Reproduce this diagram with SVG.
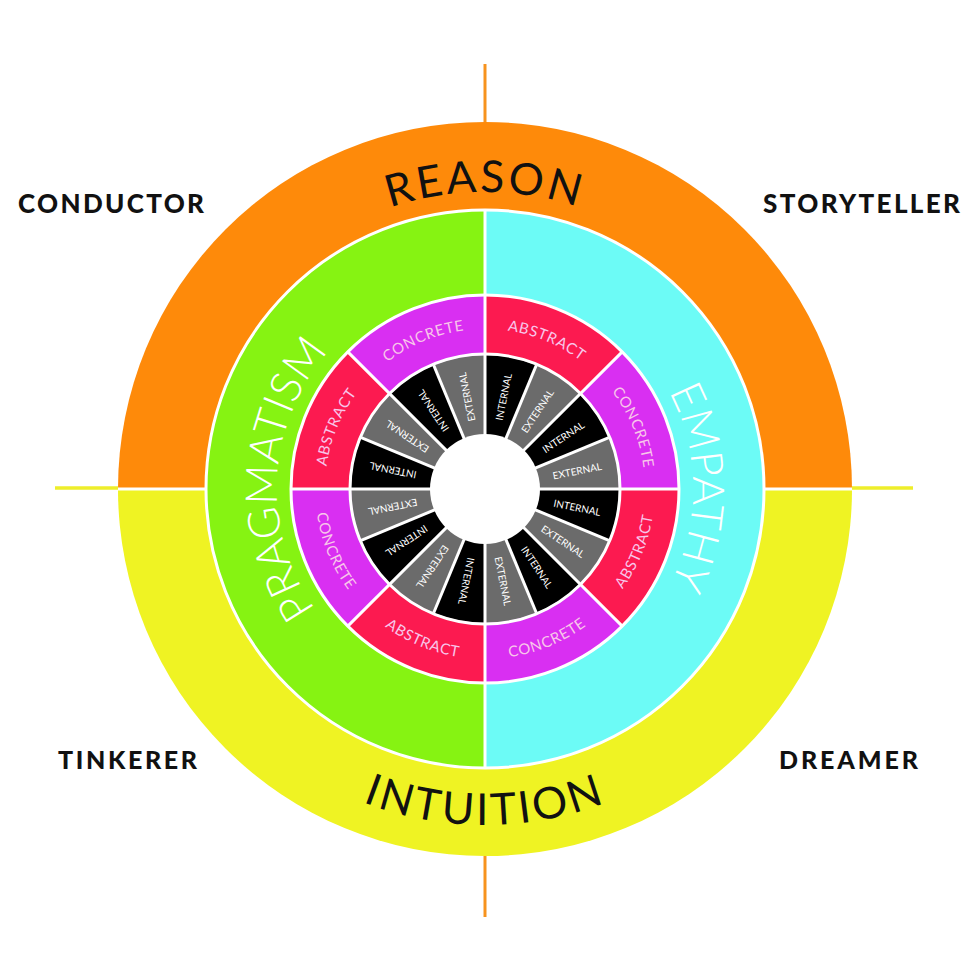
<svg xmlns="http://www.w3.org/2000/svg" width="980" height="980" viewBox="0 0 980 980">
<style>
.lbl{font-family:Lato,"Open Sans","Liberation Sans",sans-serif;font-weight:900;fill:#111;}
.big{font-family:Lato,"Open Sans","Liberation Sans",sans-serif;font-size:44px;}
.mid{font-family:Lato,"Open Sans","Liberation Sans",sans-serif;font-size:15px;fill:#f8c6ea;letter-spacing:0.7px;}
.inn{font-family:Lato,"Open Sans","Liberation Sans",sans-serif;font-size:10px;fill:#fff;text-anchor:middle;dominant-baseline:central;}
.sep{stroke:#fff;stroke-width:3;fill:none;}
</style>
<defs>
<path id="cwMid" d="M485,649 A160 160 0 1 1 485,329 A160 160 0 1 1 485,649"/>
<path id="ccwMid" d="M485,319 A170 170 0 1 0 485,659 A170 170 0 1 0 485,319"/>
<path id="cwBig" d="M485,697 A208 208 0 1 1 485,281 A208 208 0 1 1 485,697"/>
<path id="cwOut" d="M485,786 A297 297 0 1 1 485,192 A297 297 0 1 1 485,786"/>
<path id="ccwOut" d="M485,153 A336 336 0 1 0 485,825 A336 336 0 1 0 485,153"/>
</defs>
<rect width="980" height="980" fill="#fff"/>

<g id="axes">
<line x1="485" y1="64" x2="485" y2="123" stroke="#f7931e" stroke-width="3"/>
<line x1="485" y1="856" x2="485" y2="917" stroke="#f7931e" stroke-width="3"/>
<line x1="55" y1="488" x2="118" y2="488" stroke="#eeee2a" stroke-width="3.5"/>
<line x1="852" y1="488" x2="913" y2="488" stroke="#eeee2a" stroke-width="3.5"/>
</g>

<g id="outer-ring">
<path id="reason-half" d="M118,489 A367 367 0 0 1 852,489 Z" fill="#fe8a0a"/>
<path id="intuition-half" d="M852,489 A367 367 0 0 1 118,489 Z" fill="#eff323"/>
</g>
<g id="second-ring">
<path id="pragmatism-half" d="M485,768 A279 279 0 0 1 485,210 Z" fill="#86f312"/>
<path id="empathy-half" d="M485,210 A279 279 0 0 1 485,768 Z" fill="#6cfbf6"/>
</g>
<g id="third-ring">
<circle cx="485" cy="489" r="194" fill="#d92ff2"/>
<path d="M485,489 L485,295 A194 194 0 0 1 622.18,351.82 Z" fill="#fc1a50"/>
<path d="M485,489 L679,489 A194 194 0 0 1 622.18,626.18 Z" fill="#fc1a50"/>
<path d="M485,489 L485,683 A194 194 0 0 1 347.82,626.18 Z" fill="#fc1a50"/>
<path d="M485,489 L291,489 A194 194 0 0 1 347.82,351.82 Z" fill="#fc1a50"/>
</g>
<g id="inner-ring">
<circle cx="485" cy="489" r="134" fill="#6b6b6b"/>
<path d="M485,489 L485,355 A134 134 0 0 1 536.28,365.20 Z" fill="#000"/>
<path d="M485,489 L579.75,394.25 A134 134 0 0 1 608.80,437.72 Z" fill="#000"/>
<path d="M485,489 L619,489 A134 134 0 0 1 608.80,540.28 Z" fill="#000"/>
<path d="M485,489 L579.75,583.75 A134 134 0 0 1 536.28,612.80 Z" fill="#000"/>
<path d="M485,489 L485,623 A134 134 0 0 1 433.72,612.80 Z" fill="#000"/>
<path d="M485,489 L390.25,583.75 A134 134 0 0 1 361.20,540.28 Z" fill="#000"/>
<path d="M485,489 L351,489 A134 134 0 0 1 361.20,437.72 Z" fill="#000"/>
<path d="M485,489 L390.25,394.25 A134 134 0 0 1 433.72,365.20 Z" fill="#000"/>
</g>

<g id="separators">
<circle class="sep" cx="485" cy="489" r="279"/>
<circle class="sep" cx="485" cy="489" r="194"/>
<circle class="sep" cx="485" cy="489" r="135" stroke-width="2.5"/>
<line class="sep" x1="485" y1="210" x2="485" y2="768"/>
<line class="sep" x1="291" y1="489" x2="679" y2="489"/>
<line class="sep" x1="118" y1="489" x2="206" y2="489"/>
<line class="sep" x1="764" y1="489" x2="852" y2="489"/>
<line class="sep" x1="622.18" y1="351.82" x2="347.82" y2="626.18"/>
<line class="sep" x1="622.18" y1="626.18" x2="347.82" y2="351.82"/>
<line class="sep" x1="536.28" y1="365.20" x2="433.72" y2="612.80"/>
<line class="sep" x1="608.80" y1="437.72" x2="361.20" y2="540.28"/>
<line class="sep" x1="608.80" y1="540.28" x2="361.20" y2="437.72"/>
<line class="sep" x1="536.28" y1="612.80" x2="433.72" y2="365.20"/>
<circle cx="485" cy="489" r="55" fill="#fff"/>
</g>

<g id="big-labels">
<text class="big" fill="#111" letter-spacing="3" text-anchor="middle"><textPath href="#cwOut" startOffset="50%">REASON</textPath></text>
<text class="big" fill="#111" letter-spacing="3" text-anchor="middle"><textPath href="#ccwOut" startOffset="50%">INTUITION</textPath></text>
<text class="big" fill="#fff" font-weight="300" text-anchor="middle"><textPath href="#cwBig" startOffset="25.83%">PRAGMATISM</textPath></text>
<text class="big" fill="#fff" font-weight="300" text-anchor="middle"><textPath href="#cwBig" startOffset="74.86%">EMPATHY</textPath></text>
</g>

<g id="mid-labels">
<text class="mid" text-anchor="middle"><textPath href="#cwMid" startOffset="56.25%">ABSTRACT</textPath></text>
<text class="mid" text-anchor="middle"><textPath href="#cwMid" startOffset="68.75%">CONCRETE</textPath></text>
<text class="mid" text-anchor="middle"><textPath href="#ccwMid" startOffset="68.75%">ABSTRACT</textPath></text>
<text class="mid" text-anchor="middle"><textPath href="#ccwMid" startOffset="56.25%">CONCRETE</textPath></text>
<text class="mid" text-anchor="middle"><textPath href="#ccwMid" startOffset="43.75%">ABSTRACT</textPath></text>
<text class="mid" text-anchor="middle"><textPath href="#ccwMid" startOffset="31.25%">CONCRETE</textPath></text>
<text class="mid" text-anchor="middle"><textPath href="#cwMid" startOffset="31.25%">ABSTRACT</textPath></text>
<text class="mid" text-anchor="middle"><textPath href="#cwMid" startOffset="43.75%">CONCRETE</textPath></text>
</g>

<g id="inner-labels">
<text class="inn" x="579" y="489" transform="rotate(-78.75 485 489)">INTERNAL</text>
<text class="inn" x="579" y="489" transform="rotate(-56.25 485 489)">EXTERNAL</text>
<text class="inn" x="579" y="489" transform="rotate(-33.75 485 489)">INTERNAL</text>
<text class="inn" x="579" y="489" transform="rotate(-11.25 485 489)">EXTERNAL</text>
<text class="inn" x="579" y="489" transform="rotate(11.25 485 489)">INTERNAL</text>
<text class="inn" x="579" y="489" transform="rotate(33.75 485 489)">EXTERNAL</text>
<text class="inn" x="579" y="489" transform="rotate(56.25 485 489)">INTERNAL</text>
<text class="inn" x="579" y="489" transform="rotate(78.75 485 489)">EXTERNAL</text>
<text class="inn" x="579" y="489" transform="rotate(101.25 485 489)">INTERNAL</text>
<text class="inn" x="579" y="489" transform="rotate(123.75 485 489)">EXTERNAL</text>
<text class="inn" x="579" y="489" transform="rotate(146.25 485 489)">INTERNAL</text>
<text class="inn" x="579" y="489" transform="rotate(168.75 485 489)">EXTERNAL</text>
<text class="inn" x="579" y="489" transform="rotate(191.25 485 489)">INTERNAL</text>
<text class="inn" x="579" y="489" transform="rotate(213.75 485 489)">EXTERNAL</text>
<text class="inn" x="579" y="489" transform="rotate(236.25 485 489)">INTERNAL</text>
<text class="inn" x="579" y="489" transform="rotate(258.75 485 489)">EXTERNAL</text>
</g>

<g id="corner-labels">
<text id="conductor" class="lbl" x="18" y="213" font-size="26" textLength="186" lengthAdjust="spacing">CONDUCTOR</text>
<text id="storyteller" class="lbl" x="763" y="213" font-size="26" textLength="197" lengthAdjust="spacing">STORYTELLER</text>
<text id="tinkerer" class="lbl" x="58" y="769" font-size="25" textLength="139" lengthAdjust="spacing">TINKERER</text>
<text id="dreamer" class="lbl" x="779" y="769" font-size="25" textLength="139" lengthAdjust="spacing">DREAMER</text>
</g>
</svg>
